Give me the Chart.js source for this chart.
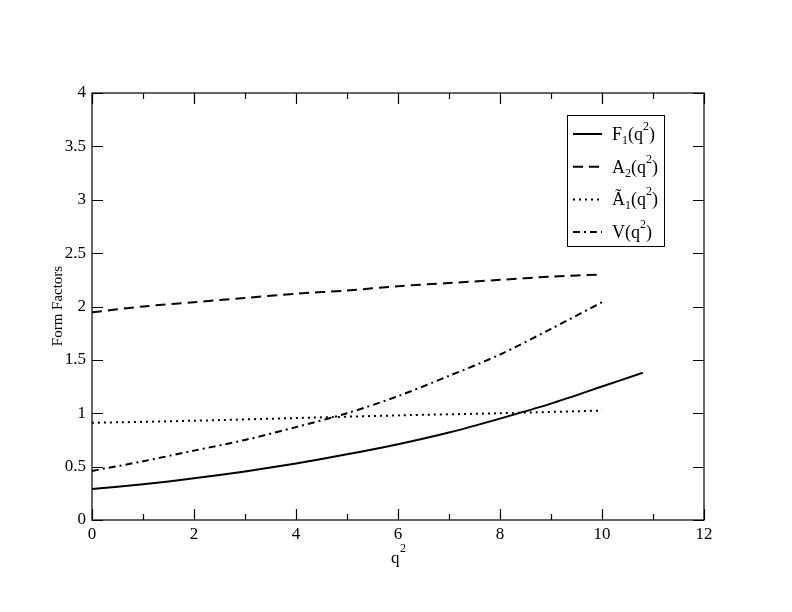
<!DOCTYPE html>
<html>
<head>
<meta charset="utf-8">
<script src="https://cdn.jsdelivr.net/npm/chart.js@4"></script>
<style>
  html, body { margin: 0; padding: 0; background: #fff; }
  canvas { display: block; }
</style>
</head>
<body>
<canvas id="ff" width="792" height="612"></canvas>
<script>
// ─── Data ───
const qF1 = [0, 1, 2, 3, 4, 5, 6, 7, 8, 9, 10, 10.8];
const F1  = [0.29, 0.335, 0.39, 0.455, 0.53, 0.615, 0.71, 0.82, 0.95, 1.09, 1.25, 1.38];

const qA2 = [0, 1, 2, 3, 4, 5, 6, 7, 8, 9, 10];
const A2  = [1.945, 2.0, 2.04, 2.08, 2.12, 2.15, 2.19, 2.22, 2.25, 2.28, 2.30];

const qA1t = [0, 2, 4, 6, 8, 10];
const A1t  = [0.91, 0.93, 0.955, 0.98, 1.0, 1.025];

const qV = [0, 1, 2, 3, 4, 5, 6, 7, 8, 9, 10];
const V  = [0.46, 0.55, 0.65, 0.75, 0.87, 1.0, 1.16, 1.35, 1.55, 1.79, 2.04];

const xTicks = [0, 2, 4, 6, 8, 10, 12];
const yTicks = [0, 0.5, 1, 1.5, 2, 2.5, 3, 3.5, 4];

const SERIF = '"Liberation Serif", "DejaVu Serif", serif';

const pts = (xs, ys) => xs.map((x, i) => ({ x, y: ys[i] }));

// legend entries: base letter, subscript, dash pattern
const legendItems = [
  { base: 'F', sub: '1', dash: [] },
  { base: 'A', sub: '2', dash: [10, 6] },
  { base: '\u00C3', sub: '1', dash: [2, 4] },
  { base: 'V', sub: '',  dash: [7, 4, 2, 4] },
];

// ─── Frame, inward ticks, titles, legend ───
const framePlugin = {
  id: 'frame',
  afterDraw(chart) {
    const { ctx, chartArea: a, scales: { x, y } } = chart;
    ctx.save();
    ctx.strokeStyle = '#000';
    ctx.lineWidth = 1.2;
    ctx.setLineDash([]);
    ctx.strokeRect(a.left, a.top, a.right - a.left, a.bottom - a.top);

    ctx.beginPath();
    for (let v = 0; v <= 12; v++) {
      const px = Math.round(x.getPixelForValue(v)) + 0.5;
      const len = v % 2 === 0 ? 11 : 6;
      ctx.moveTo(px, a.bottom); ctx.lineTo(px, a.bottom - len);
      ctx.moveTo(px, a.top);    ctx.lineTo(px, a.top + len);
    }
    yTicks.forEach(v => {
      const py = Math.round(y.getPixelForValue(v)) + 0.5;
      ctx.moveTo(a.left, py);  ctx.lineTo(a.left + 11, py);
      ctx.moveTo(a.right, py); ctx.lineTo(a.right - 11, py);
    });
    ctx.stroke();

    ctx.fillStyle = '#000';
    // y title
    ctx.save();
    ctx.translate(58, 306);
    ctx.rotate(-Math.PI / 2);
    ctx.font = `15px ${SERIF}`;
    ctx.textAlign = 'center';
    ctx.textBaseline = 'middle';
    ctx.fillText('Form Factors', 0, 0);
    ctx.restore();

    // x title q^2
    ctx.font = `17px ${SERIF}`;
    ctx.textAlign = 'left';
    ctx.textBaseline = 'alphabetic';
    ctx.fillText('q', 391, 563);
    ctx.font = `12px ${SERIF}`;
    ctx.fillText('2', 400, 552);

    // legend box
    ctx.lineWidth = 1;
    ctx.strokeRect(567.5, 115.5, 97, 131);
    legendItems.forEach((it, i) => {
      const ly = 134 + i * 32.7;
      ctx.beginPath();
      ctx.lineWidth = 2;
      ctx.setLineDash(it.dash);
      ctx.moveTo(573, ly); ctx.lineTo(602, ly);
      ctx.stroke();
      ctx.setLineDash([]);

      let tx = 612;
      const base = ly + 6;
      ctx.font = `18px ${SERIF}`;
      ctx.fillText(it.base, tx, base);
      tx += ctx.measureText(it.base).width;
      if (it.sub) {
        ctx.font = `12px ${SERIF}`;
        ctx.fillText(it.sub, tx, base + 4);
        tx += ctx.measureText(it.sub).width;
      }
      ctx.font = `18px ${SERIF}`;
      ctx.fillText('(q', tx, base);
      tx += ctx.measureText('(q').width;
      ctx.font = `12px ${SERIF}`;
      ctx.fillText('2', tx, base - 10);
      tx += ctx.measureText('2').width;
      ctx.font = `18px ${SERIF}`;
      ctx.fillText(')', tx, base);
    });
    ctx.restore();
  }
};

const line = (label, data, dash) => ({
  label, data,
  borderColor: '#000',
  borderWidth: 2,
  borderDash: dash,
  pointRadius: 0,
  fill: false,
  tension: 0.3,
});

new Chart(document.getElementById('ff').getContext('2d'), {
  type: 'line',
  data: {
    datasets: [
      line('F1(q2)', pts(qF1, F1), []),
      line('A2(q2)', pts(qA2, A2), [10, 6]),
      line('Ã1(q2)', pts(qA1t, A1t), [2, 4]),
      line('V(q2)',  pts(qV, V), [7, 4, 2, 4]),
    ],
  },
  options: {
    responsive: false,
    animation: false,
    devicePixelRatio: 1,
    layout: { padding: { left: 0, top: 93, right: 88, bottom: 0 } },
    plugins: { legend: { display: false }, tooltip: { enabled: false } },
    scales: {
      x: {
        type: 'linear', min: 0, max: 12,
        afterFit: s => { s.height = 92; },
        afterBuildTicks: s => { s.ticks = xTicks.map(v => ({ value: v })); },
        grid: { display: false, drawTicks: false },
        border: { display: false },
        ticks: { color: '#000', padding: 4, maxRotation: 0, font: { family: SERIF, size: 17 },
                 callback: v => String(v) },
      },
      y: {
        type: 'linear', min: 0, max: 4,
        afterFit: s => { s.width = 92; },
        afterBuildTicks: s => { s.ticks = yTicks.map(v => ({ value: v })); },
        grid: { display: false, drawTicks: false },
        border: { display: false },
        ticks: { color: '#000', padding: 6, font: { family: SERIF, size: 17 },
                 callback: v => String(v) },
      },
    },
  },
  plugins: [framePlugin],
});
</script>
</body>
</html>
